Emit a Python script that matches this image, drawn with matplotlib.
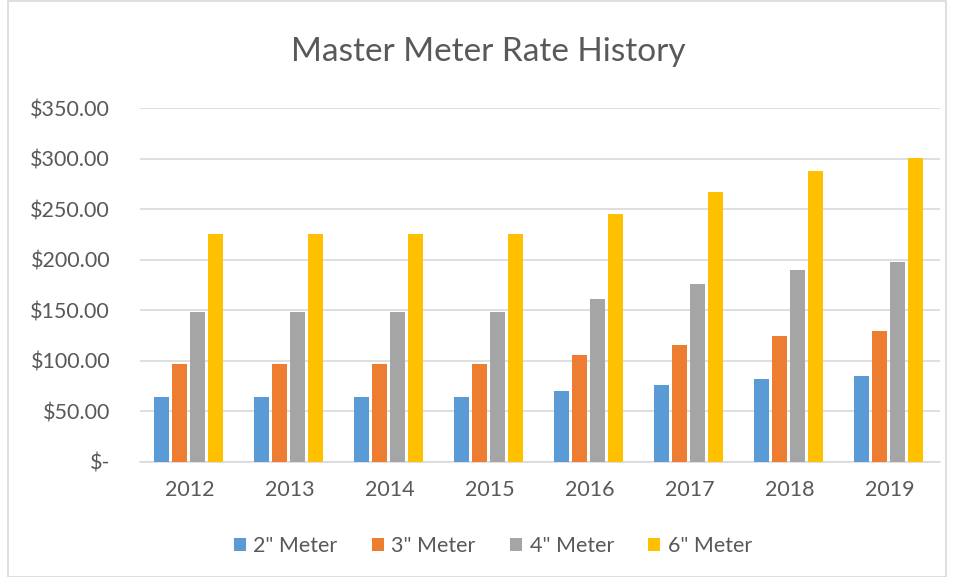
import numpy as np
import matplotlib.pyplot as plt
from matplotlib.patches import Rectangle
from matplotlib.ticker import FuncFormatter

years = ['2012', '2013', '2014', '2015', '2016', '2017', '2018', '2019']
meter_2 = [64, 64, 64, 64, 70, 76, 82, 85.5]
meter_3 = [97, 97, 97, 97, 106, 115.5, 124.5, 130]
meter_4 = [148, 148, 148, 148, 161, 175.5, 190, 197.5]
meter_6 = [225, 225, 225, 225, 245, 267, 288, 300.5]
series_names = ['2" Meter', '3" Meter', '4" Meter', '6" Meter']
colors = ['#5B9BD5', '#ED7D31', '#A5A5A5', '#FFC000']

plt.rcParams['font.family'] = ['Lato', 'DejaVu Sans']
text_color = '#595959'

fig = plt.figure(figsize=(9.54, 5.77), dpi=100)
ax = fig.add_axes([140 / 954, 1 - 462 / 577, 800 / 954, 354 / 577])

x = np.arange(len(years))
width = 0.145
step = 0.18
for i, (vals, name, c) in enumerate(zip([meter_2, meter_3, meter_4, meter_6], series_names, colors)):
    ax.bar(x + (i - 1.5) * step - 0.015, vals, width, color=c, label=name, zorder=3)

ax.set_xlim(-0.5, len(years) - 0.5)
ax.set_ylim(0, 350)
ax.set_yticks(np.arange(0, 351, 50))
ax.yaxis.set_major_formatter(FuncFormatter(lambda v, p: '$-' if v == 0 else f'${v:,.2f}'))
ax.set_xticks(x)
ax.set_xticklabels(years)
ax.grid(axis='y', color='#D9D9D9', linewidth=1.2, zorder=0)
for s in ['top', 'right', 'left']:
    ax.spines[s].set_visible(False)
ax.spines['bottom'].set_color('#D9D9D9')
ax.spines['bottom'].set_linewidth(1.2)
ax.tick_params(axis='both', length=0, labelsize=15.5, colors=text_color)
ax.tick_params(axis='y', pad=21.5)
ax.tick_params(axis='x', pad=13)
for lbl in ax.get_yticklabels():
    lbl.set_horizontalalignment('right')

fig.text(488 / 954, 1 - 52 / 577, 'Master Meter Rate History', ha='center', va='center',
         fontsize=24, color=text_color)

leg = fig.legend(loc='center', bbox_to_anchor=(493 / 954, 1 - 546 / 577), ncol=4, frameon=False,
                 fontsize=15.5, handlelength=0.55, handleheight=0.55, handletextpad=0.35,
                 columnspacing=1.6, labelcolor=text_color)

fig.patches.append(Rectangle((8 / 954, 0), 1 - 16 / 954, 1 - 1 / 577, transform=fig.transFigure,
                             fill=False, edgecolor='#D9D9D9', linewidth=1.2))

fig.savefig('out.png', dpi=100)
